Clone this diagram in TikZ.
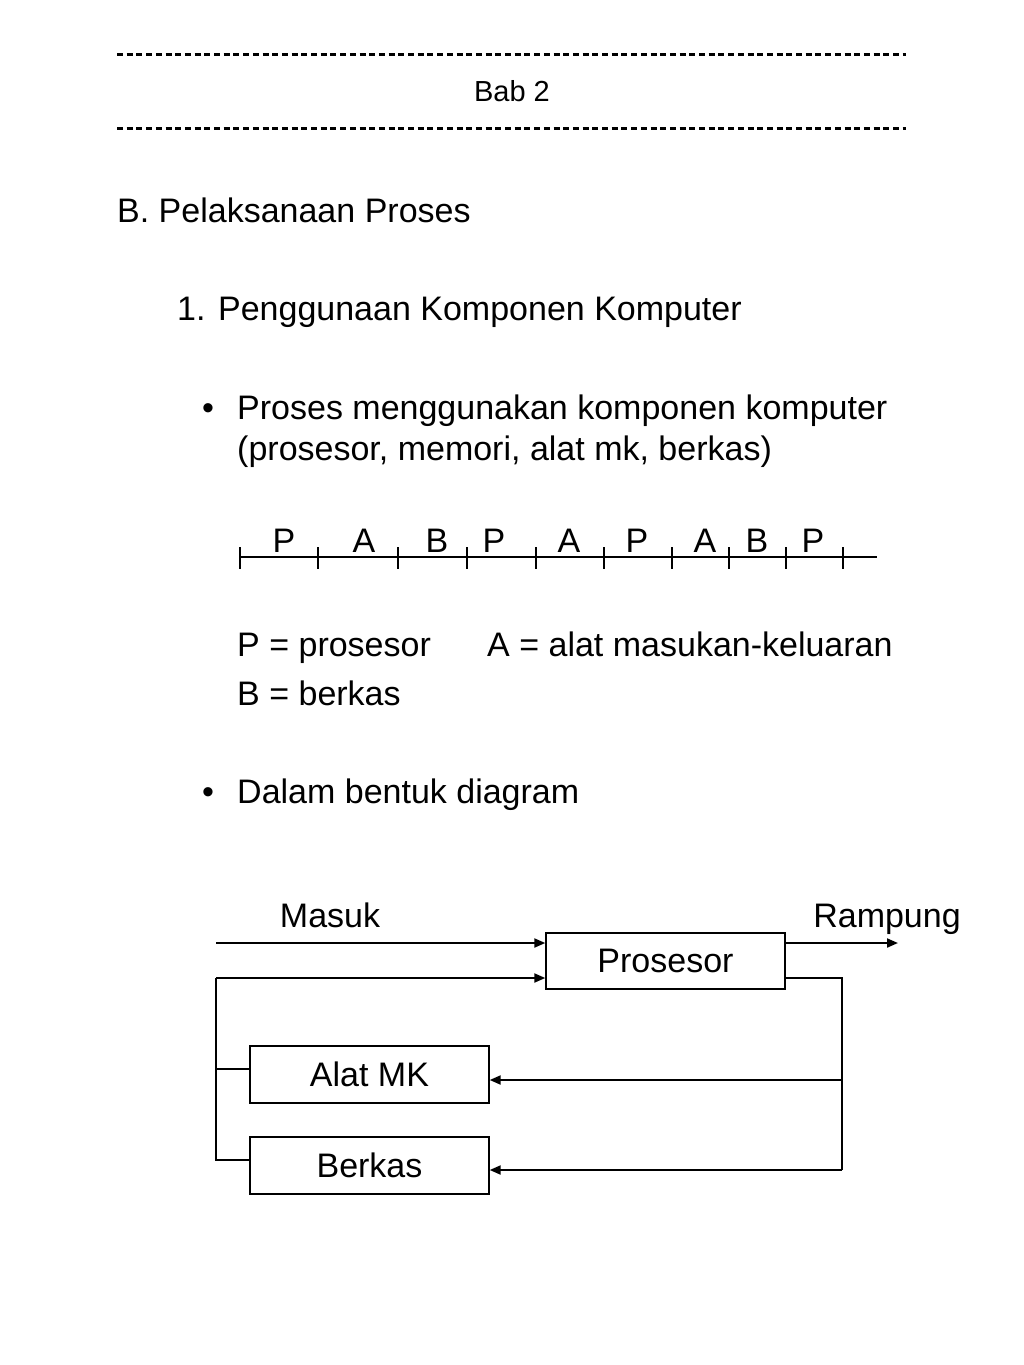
\documentclass[tikz,border=0pt]{standalone}
\usepackage{fontspec}
\setmainfont{Liberation Sans}
\usetikzlibrary{arrows.meta}
\tikzset{
  txt/.style={inner sep=0pt, font=\fontsize{34}{40}\selectfont},
  small/.style={inner sep=0pt, font=\fontsize{29}{34}\selectfont},
  box/.style={draw, line width=1.4pt, minimum width=239pt, inner sep=0pt, font=\fontsize{34}{40}\selectfont},
  arr/.style={line width=2pt, -{Triangle[length=11pt,width=9pt]}},
  ln/.style={line width=1.6pt},
  hdr/.style={line width=3pt, dash pattern=on 6pt off 3.7pt},
}
\begin{document}
\begin{tikzpicture}[x=1pt,y=-1pt]
\useasboundingbox (0,0) rectangle (1024,1365);
% header
\coordinate (h1a) at (117,54); \coordinate (h1b) at (906,54);
\coordinate (h2a) at (117,128); \coordinate (h2b) at (906,128);
\draw[hdr] (h1a) -- (h1b);
\draw[hdr] (h2a) -- (h2b);
\node[small, anchor=base] (bab) at (512,101) {Bab 2};
% text
\node[txt, anchor=base west] (tB) at (117,222) {B. Pelaksanaan Proses};
\node[txt, anchor=base west] (t1) at (177,320) {1. Penggunaan Komponen Komputer};
\node[txt, anchor=base west] (b1) at (202,419) {•};
\node[txt, anchor=base west] (t2) at (237,419) {Proses menggunakan komponen komputer};
\node[txt, anchor=base west] (t3) at (237,460) {(prosesor, memori, alat mk, berkas)};
% timeline
\coordinate (tl0) at (240,557); \coordinate (tl1) at (877,557);
\draw[line width=1.8pt] (tl0) -- (tl1);
\foreach \x in {240,318,398,467,536,604,672,729,786,843}{
  \draw[line width=1.4pt] (\x,547) -- (\x,569);
}
\foreach \x/\l [count=\i] in {284/P,364/A,437/B,494/P,569/A,637/P,705/A,757/B,813/P}{
  \node[txt, anchor=base] (lab\i) at (\x,552) {\l};
}
\node[txt, anchor=base west] (lgP) at (237,656) {P = prosesor};
\node[txt, anchor=base west] (lgA) at (487,656) {A = alat masukan-keluaran};
\node[txt, anchor=base west] (lgB) at (237,705) {B = berkas};
\node[txt, anchor=base west] (b2) at (202,803) {•};
\node[txt, anchor=base west] (t4) at (237,803) {Dalam bentuk diagram};
% diagram
\node[txt, anchor=base] (masuk) at (330,927) {Masuk};
\node[txt, anchor=base] (rampung) at (887,927) {Rampung};
\node[box, minimum height=56pt] (pros) at (665.5,961) {Prosesor};
\node[box, minimum height=57pt] (alat) at (369.5,1074.5) {Alat MK};
\node[box, minimum height=57pt] (berk) at (369.5,1165.5) {Berkas};
\coordinate (in1) at (216,943);
\coordinate (out1) at (898,943);
\coordinate (lp) at (216,978);
\coordinate (lpb) at (216,1160);
\coordinate (lpa) at (216,1069);
\coordinate (rt) at (842,978);
\coordinate (rb) at (842,1170);
\coordinate (rm) at (842,1080);
\draw[arr] (in1) -- (in1 -| pros.west);
\draw[arr] (pros.east |- out1) -- (out1);
\draw[arr] (lp) -- (lp -| pros.west);
\draw[ln] (lp) -- (lpb) -- (lpb -| berk.west);
\draw[ln] (lpa) -- (lpa -| alat.west);
\draw[ln] (rt -| pros.east) -- (rt) -- (rb);
\draw[arr] (rb) -- (rb -| berk.east);
\draw[arr] (rm) -- (rm -| alat.east);
\end{tikzpicture}
\end{document}
